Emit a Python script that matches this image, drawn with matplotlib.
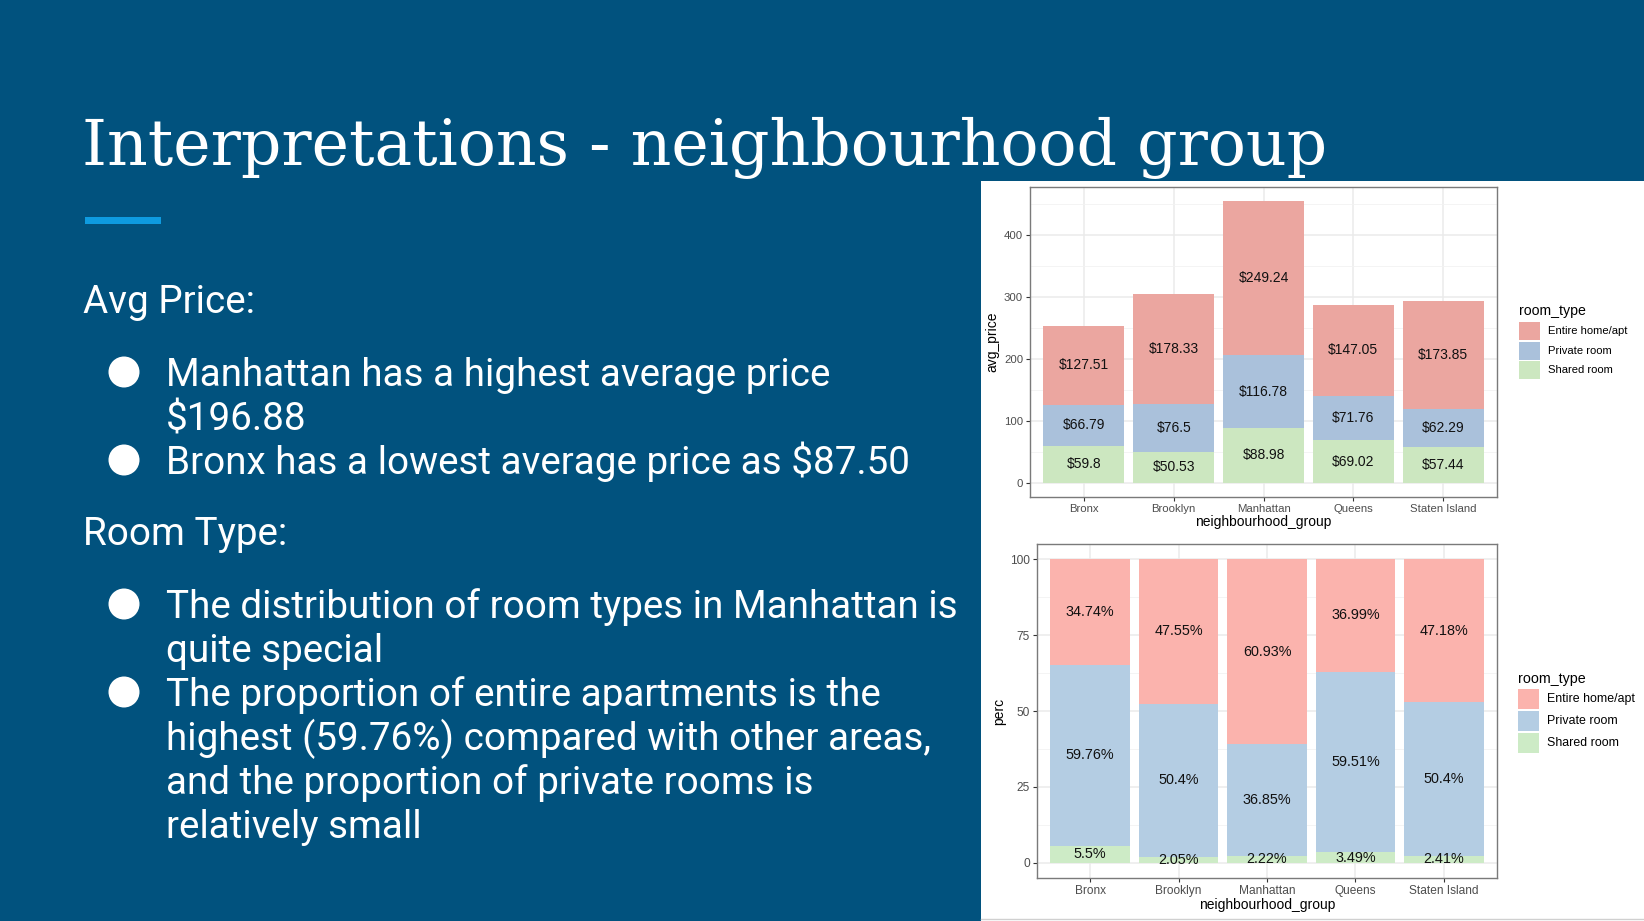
import matplotlib
matplotlib.use("Agg")
import numpy as np
import matplotlib.pyplot as plt
from matplotlib.patches import Rectangle, Circle

plt.rcParams['text.parse_math'] = False

W, H = 1644, 921
BG = "#01527E"

neighbourhoods = ["Bronx", "Brooklyn", "Manhattan", "Queens", "Staten Island"]
room_types = ["Entire home/apt", "Private room", "Shared room"]

avg_entire = [127.51, 178.33, 249.24, 147.05, 173.85]
avg_private = [66.79, 76.5, 116.78, 71.76, 62.29]
avg_shared = [59.8, 50.53, 88.98, 69.02, 57.44]

perc_entire = [34.74, 47.55, 60.93, 36.99, 47.18]
perc_private = [59.76, 50.4, 36.85, 59.51, 50.4]
perc_shared = [5.5, 2.05, 2.22, 3.49, 2.41]

title = "Interpretations - neighbourhood group"
sections = [
    ("Avg Price:", [
        ["Manhattan has a highest average price", "$196.88"],
        ["Bronx has a lowest average price as $87.50"],
    ]),
    ("Room Type:", [
        ["The distribution of room types in Manhattan is", "quite special"],
        ["The proportion of entire apartments is the",
         "highest (59.76%) compared with other areas,",
         "and the proportion of private rooms is",
         "relatively small"],
    ]),
]

top_colors = ["#EBA6A0", "#AAC1DB", "#CCE7C0"]
bot_colors = ["#FBB3AD", "#B4CDE3", "#CDEBC6"]

CHART_FONT = "Liberation Sans"
BODY_SIZE = 27.8


def px_rect(x0, y0, x1, y1):
    return [x0 / W, 1 - y1 / H, (x1 - x0) / W, (y1 - y0) / H]


fig = plt.figure(figsize=(W / 100, H / 100), dpi=100)
fig.patch.set_facecolor(BG)

# background layer in pixel coordinates
bg = fig.add_axes([0, 0, 1, 1])
bg.set_xlim(0, W)
bg.set_ylim(H, 0)
bg.axis("off")
bg.set_zorder(0)

bg.add_patch(Rectangle((981, 181), W - 981, H - 181, facecolor="white", edgecolor="none"))
bg.plot([981, W], [919, 919], color="#d0d0d0", lw=1)

# title and accent line
bg.text(82, 165, title, fontsize=45.5, family="DejaVu Serif", color="white", va="baseline")
bg.add_patch(Rectangle((85, 217), 76, 7, facecolor="#0E9BE0", edgecolor="none"))

# left text block
header_y = [313, 545]
line_h = 44
for (head, bullets), hy in zip(sections, header_y):
    bg.text(83, hy, head, fontsize=BODY_SIZE, family="Roboto", color="white", va="baseline")
    y = hy + 73
    for lines in bullets:
        bg.add_patch(Circle((124, y - 14), 15.5, facecolor="white", edgecolor="none"))
        for ln in lines:
            bg.text(166, y, ln, fontsize=BODY_SIZE, family="Roboto", color="white", va="baseline")
            y += line_h


def stacked_chart(rect, series, colors, ylabel, fmt, label_size, tick_size, yticks, ymin_ticks):
    ax = fig.add_axes(px_rect(*rect))
    ax.set_zorder(2)
    x = np.arange(len(neighbourhoods))
    bottom = np.zeros(len(neighbourhoods))
    # stack from bottom: shared, private, entire
    for vals, col in zip(series[::-1], colors[::-1]):
        vals = np.array(vals)
        ax.bar(x, vals, bottom=bottom, width=0.9, color=col, edgecolor="none", zorder=2)
        for xi, b, v in zip(x, bottom, vals):
            ax.text(xi, b + v / 2, fmt(v), ha="center", va="center", fontsize=label_size,
                    family=CHART_FONT, color="#111111", zorder=3)
        bottom = bottom + vals
    top = bottom.max()
    ax.set_ylim(-0.05 * top, 1.05 * top)
    ax.set_xlim(-0.6, len(neighbourhoods) - 0.4)
    ax.set_xticks(x)
    ax.set_xticklabels(neighbourhoods, family=CHART_FONT, fontsize=tick_size, color="#4D4D4D")
    ax.set_yticks(yticks)
    ax.set_yticklabels([f"{t:g}" for t in yticks], family=CHART_FONT, fontsize=tick_size, color="#4D4D4D")
    ax.set_yticks(ymin_ticks, minor=True)
    ax.tick_params(axis="both", which="major", length=3, width=0.8, color="#333333", pad=2)
    ax.tick_params(axis="y", which="minor", length=0)
    ax.set_axisbelow(True)
    ax.grid(which="major", color="#EBEBEB", lw=1.1, zorder=0)
    ax.grid(which="minor", axis="y", color="#F2F2F2", lw=0.6, zorder=0)
    for sp in ax.spines.values():
        sp.set_color("#7A7A7A")
        sp.set_linewidth(1.0)
    ax.set_xlabel("neighbourhood_group", family=CHART_FONT, fontsize=10, labelpad=1)
    ax.set_ylabel(ylabel, family=CHART_FONT, fontsize=10, labelpad=3)
    return ax


stacked_chart((1030, 187, 1497, 497), [avg_entire, avg_private, avg_shared], top_colors,
              "avg_price", lambda v: f"${v:g}", 10, 8.2,
              [0, 100, 200, 300, 400], [50, 150, 250, 350, 450])

stacked_chart((1037, 544, 1497, 878), [perc_entire, perc_private, perc_shared], bot_colors,
              "perc", lambda v: f"{v:g}%", 10.4, 8.6,
              [0, 25, 50, 75, 100], [12.5, 37.5, 62.5, 87.5])


def legend(x0, title_y, key_tops, key_h, colors, fs_title, fs_lab):
    bg.text(x0, title_y, "room_type", fontsize=fs_title, family=CHART_FONT, color="black", va="baseline")
    for top, col, lab in zip(key_tops, colors, room_types):
        bg.add_patch(Rectangle((x0, top), 21, key_h, facecolor=col, edgecolor="none"))
        bg.text(x0 + 29, top + key_h / 2, lab, fontsize=fs_lab, family=CHART_FONT,
                color="black", va="center")


legend(1519, 315, [322, 341.5, 361], 18, top_colors, 10.2, 8.1)
legend(1518, 683, [689, 711, 733], 20, bot_colors, 10.3, 8.9)

fig.savefig("out.png", dpi=100, facecolor=BG)
